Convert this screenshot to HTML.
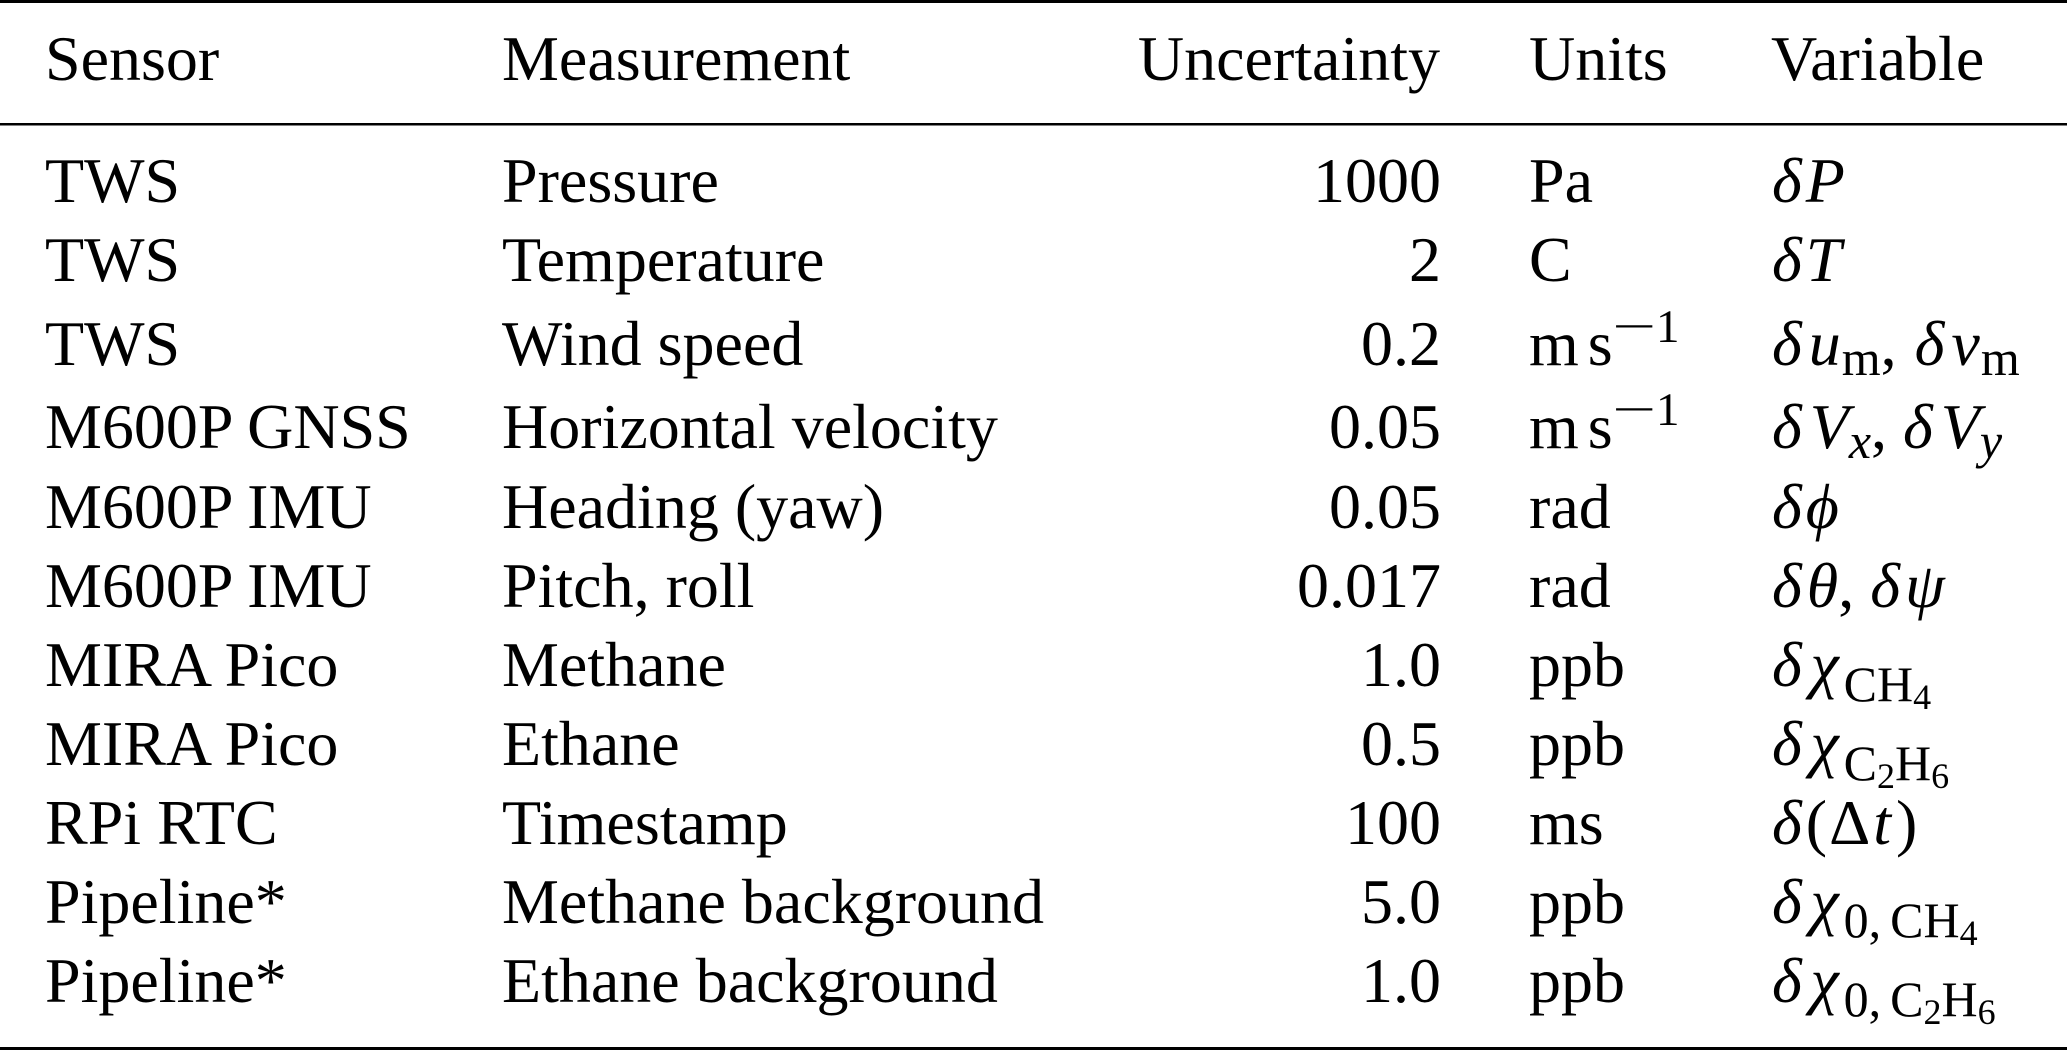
<!DOCTYPE html>
<html>
<head>
<meta charset="utf-8">
<style>
  html, body { margin: 0; padding: 0; background: #ffffff; }
  svg { display: block; }
  text { font-family: "Liberation Serif", "DejaVu Serif", serif; font-size: 64px; fill: #000; }
  .i { font-style: italic; }
  .s { font-size: 50px; }
  .ss { font-size: 36px; }
</style>
</head>
<body>
<svg width="2067" height="1050" viewBox="0 0 2067 1050" xmlns="http://www.w3.org/2000/svg">
  <rect x="0" y="0" width="2067" height="1050" fill="#fff"/>
  <!-- rules -->
  <rect x="0" y="0" width="2067" height="3" fill="#000"/>
  <rect x="0" y="123" width="2067" height="2.5" fill="#000"/>
  <rect x="0" y="1047" width="2067" height="3" fill="#000"/>

  <!-- header -->
  <text x="45" y="80">Sensor</text>
  <text x="502" y="80">Measurement</text>
  <text x="1440" y="80" text-anchor="end">Uncertainty</text>
  <text x="1529" y="80">Units</text>
  <text x="1771" y="80">Variable</text>

  <!-- Sensor column -->
  <text x="45" y="202">TWS</text>
  <text x="45" y="281">TWS</text>
  <text x="45" y="365">TWS</text>
  <text x="45" y="448">M600P GNSS</text>
  <text x="45" y="528">M600P IMU</text>
  <text x="45" y="607">M600P IMU</text>
  <text x="45" y="686">MIRA Pico</text>
  <text x="45" y="765">MIRA Pico</text>
  <text x="45" y="844">RPi RTC</text>
  <text x="45" y="923">Pipeline*</text>
  <text x="45" y="1002">Pipeline*</text>

  <!-- Measurement column -->
  <text x="502" y="202">Pressure</text>
  <text x="502" y="281">Temperature</text>
  <text x="502" y="365">Wind speed</text>
  <text x="502" y="448">Horizontal velocity</text>
  <text x="502" y="528">Heading (yaw)</text>
  <text x="502" y="607">Pitch, roll</text>
  <text x="502" y="686">Methane</text>
  <text x="502" y="765">Ethane</text>
  <text x="502" y="844">Timestamp</text>
  <text x="502" y="923">Methane background</text>
  <text x="502" y="1002">Ethane background</text>

  <!-- Uncertainty column -->
  <text x="1441" y="202" text-anchor="end">1000</text>
  <text x="1441" y="281" text-anchor="end">2</text>
  <text x="1441" y="365" text-anchor="end">0.2</text>
  <text x="1441" y="448" text-anchor="end">0.05</text>
  <text x="1441" y="528" text-anchor="end">0.05</text>
  <text x="1441" y="607" text-anchor="end">0.017</text>
  <text x="1441" y="686" text-anchor="end">1.0</text>
  <text x="1441" y="765" text-anchor="end">0.5</text>
  <text x="1441" y="844" text-anchor="end">100</text>
  <text x="1441" y="923" text-anchor="end">5.0</text>
  <text x="1441" y="1002" text-anchor="end">1.0</text>

  <!-- Units column -->
  <text x="1529" y="202">Pa</text>
  <text x="1529" y="281">C</text>
  <text x="1529" y="365">m<tspan dx="9">s</tspan></text>
  <text x="1612" y="342" style="font-size:47px" textLength="44" lengthAdjust="spacingAndGlyphs">−</text>
  <text x="1656" y="342" style="font-size:47px">1</text>
  <text x="1529" y="448">m<tspan dx="9">s</tspan></text>
  <text x="1612" y="425" style="font-size:47px" textLength="44" lengthAdjust="spacingAndGlyphs">−</text>
  <text x="1656" y="425" style="font-size:47px">1</text>
  <text x="1529" y="528">rad</text>
  <text x="1529" y="607">rad</text>
  <text x="1529" y="686">ppb</text>
  <text x="1529" y="765">ppb</text>
  <text x="1529" y="844">ms</text>
  <text x="1529" y="923">ppb</text>
  <text x="1529" y="1002">ppb</text>

  <!-- Variable column -->
  <text x="1772" y="202" class="i">δ<tspan dx="4">P</tspan></text>
  <text x="1772" y="281" class="i">δ<tspan dx="4">T</tspan></text>

  <text x="1772" y="365"><tspan class="i">δ</tspan><tspan class="i" dx="7">u</tspan><tspan class="s" dy="10" dx="1">m</tspan><tspan dy="-10">,</tspan><tspan class="i" dx="18">δ</tspan><tspan class="i" dx="7">v</tspan><tspan class="s" dy="10" dx="1">m</tspan></text>

  <text x="1772" y="448"><tspan class="i">δ</tspan><tspan class="i" dx="8">V</tspan><tspan class="i s" dy="10">x</tspan><tspan dy="-10">,</tspan><tspan class="i" dx="16">δ</tspan><tspan class="i" dx="8">V</tspan><tspan class="i s" dy="10">y</tspan></text>

  <text x="1772" y="528" class="i">δ<tspan dx="4">ϕ</tspan></text>
  <text x="1772" y="607"><tspan class="i">δ</tspan><tspan class="i" dx="5">θ</tspan><tspan>,</tspan><tspan class="i" dx="16">δ</tspan><tspan class="i" dx="5">ψ</tspan></text>

  <text x="1772" y="686"><tspan class="i">δ</tspan><tspan class="i" dx="10">χ</tspan><tspan class="s" dy="15" dx="5">CH</tspan><tspan class="ss" dy="8">4</tspan></text>

  <text x="1772" y="765"><tspan class="i">δ</tspan><tspan class="i" dx="10">χ</tspan><tspan class="s" dy="15" dx="5">C</tspan><tspan class="ss" dy="8">2</tspan><tspan class="s" dy="-8">H</tspan><tspan class="ss" dy="8">6</tspan></text>

  <text x="1772" y="844"><tspan class="i">δ</tspan><tspan dx="4">(</tspan><tspan dx="2">Δ</tspan><tspan class="i" dx="3">t</tspan><tspan dx="5">)</tspan></text>

  <text x="1772" y="923"><tspan class="i">δ</tspan><tspan class="i" dx="10">χ</tspan><tspan class="s" dy="14" dx="5">0,</tspan><tspan class="s" dx="9">CH</tspan><tspan class="ss" dy="8">4</tspan></text>

  <text x="1772" y="1002"><tspan class="i">δ</tspan><tspan class="i" dx="10">χ</tspan><tspan class="s" dy="14" dx="5">0,</tspan><tspan class="s" dx="9">C</tspan><tspan class="ss" dy="8">2</tspan><tspan class="s" dy="-8">H</tspan><tspan class="ss" dy="8">6</tspan></text>
</svg>
</body>
</html>
